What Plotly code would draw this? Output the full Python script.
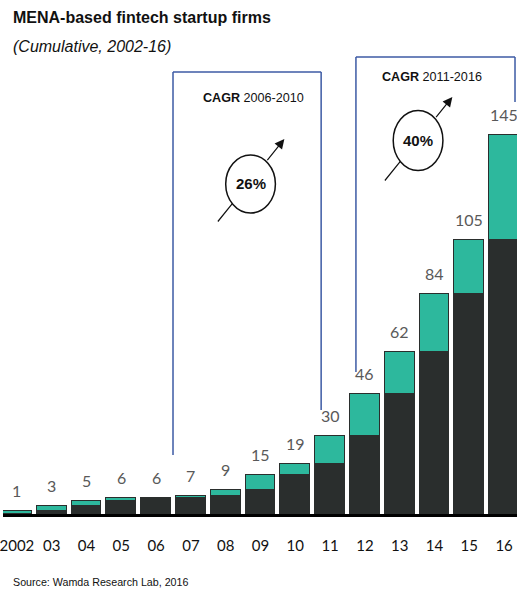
import math
import plotly.graph_objects as go

years = ["2002", "03", "04", "05", "06", "07", "08", "09", "10", "11", "12", "13", "14", "15", "16"]
totals = [1, 3, 5, 6, 6, 7, 9, 15, 19, 30, 46, 62, 84, 105, 145]
prev_totals = [0] + totals[:-1]
new_firms = [t - p for t, p in zip(totals, prev_totals)]

W, H = 517, 593
BASE = 514  # pixel row of the baseline
DARK = "#2a2e2d"
TEAL = "#2db89d"
BLUE = "#3c5aa4"
NARROW = "Liberation Sans, Arial, sans-serif"
LABEL_FONT = "Lato, Carlito, Calibri, sans-serif"

def px(x):
    return x / W

def py(y):
    return (BASE - y) / BASE

x_idx = list(range(len(years)))

fig = go.Figure()
fig.add_trace(go.Bar(x=x_idx, y=prev_totals, marker=dict(color=DARK, line=dict(color=DARK, width=1.5)),
                     width=0.86, showlegend=False, hoverinfo="skip"))
fig.add_trace(go.Bar(x=x_idx, y=new_firms, marker=dict(color=TEAL, line=dict(color=DARK, width=1.5)),
                     width=0.86, showlegend=False, hoverinfo="skip"))

annotations = []
for i, t in zip(x_idx, totals):
    annotations.append(dict(x=i, y=t, xref="x", yref="y", text=str(t), showarrow=False,
                            xanchor="center", yanchor="bottom", yshift=9,
                            font=dict(family=LABEL_FONT, size=16, color="#595959")))

annotations += [
    dict(x=px(8), y=py(18), xref="paper", yref="paper", xanchor="left", yanchor="middle", showarrow=False,
         text="<b>MENA-based fintech startup firms</b>", font=dict(family=NARROW, size=16, color="#111")),
    dict(x=px(8), y=py(46), xref="paper", yref="paper", xanchor="left", yanchor="middle", showarrow=False,
         text="<i>(Cumulative, 2002-16)</i>", font=dict(family=NARROW, size=16, color="#111")),
    dict(x=px(8), y=py(582), xref="paper", yref="paper", xanchor="left", yanchor="middle", showarrow=False,
         text="Source: Wamda Research Lab, 2016", font=dict(family=NARROW, size=10.7, color="#111")),
    dict(x=px(252), y=py(98), xref="paper", yref="paper", xanchor="center", yanchor="middle", showarrow=False,
         text="<b>CAGR</b> 2006-2010", font=dict(family=NARROW, size=12.6, color="#111")),
    dict(x=px(432), y=py(77), xref="paper", yref="paper", xanchor="center", yanchor="middle", showarrow=False,
         text="<b>CAGR</b> 2011-2016", font=dict(family=NARROW, size=12.6, color="#111")),
]

shapes = []
def line(x0, y0, x1, y1):
    shapes.append(dict(type="line", xref="paper", yref="paper", x0=px(x0), y0=py(y0), x1=px(x1), y1=py(y1),
                       line=dict(color=BLUE, width=1.5)))

# bracket 1
line(171, 455, 171, 72)
line(171, 72, 320, 72)
line(320, 72, 320, 410)
# bracket 2
line(355, 372, 355, 57)
line(355, 57, 515, 57)
line(515, 57, 515, 102)

def cagr(cx, cy, rx, ry, tail, tip, label):
    shapes.append(dict(type="circle", xref="paper", yref="paper", x0=px(cx - rx), x1=px(cx + rx),
                       y0=py(cy + ry), y1=py(cy - ry), line=dict(color="#111", width=1.5), fillcolor="white"))
    annotations.append(dict(x=px(cx), y=py(cy), xref="paper", yref="paper", showarrow=False, text=f"<b>{label}</b>",
                            xanchor="center", yanchor="middle",
                            font=dict(family=NARROW, size=15, color="#111")))
    # intersect line tail->tip with the ellipse
    dx, dy = tip[0] - tail[0], tip[1] - tail[1]
    ox, oy = tail[0] - cx, tail[1] - cy
    a = (dx / rx) ** 2 + (dy / ry) ** 2
    b = 2 * (ox * dx / rx ** 2 + oy * dy / ry ** 2)
    c = (ox / rx) ** 2 + (oy / ry) ** 2 - 1
    disc = math.sqrt(max(b * b - 4 * a * c, 0))
    t1 = (-b - disc) / (2 * a)
    t2 = (-b + disc) / (2 * a)
    p1 = (tail[0] + t1 * dx, tail[1] + t1 * dy)
    p2 = (tail[0] + t2 * dx, tail[1] + t2 * dy)
    annotations.append(dict(x=px(p1[0]), y=py(p1[1]), xref="paper", yref="paper", text="", showarrow=True,
                            arrowhead=0, arrowwidth=1.2, arrowcolor="#111",
                            ax=tail[0] - p1[0], ay=tail[1] - p1[1]))
    annotations.append(dict(x=px(tip[0]), y=py(tip[1]), xref="paper", yref="paper", text="", showarrow=True,
                            arrowhead=2, arrowsize=1.6, arrowwidth=1.2, arrowcolor="#111",
                            ax=p2[0] - tip[0], ay=p2[1] - tip[1]))

cagr(249, 184, 25, 29, (215, 223), (283, 139), "26%")
cagr(417.5, 140.5, 25, 30, (383, 182), (452, 97), "40%")

ymax = BASE / ((BASE - 135) / 145)
fig.update_layout(
    width=W, height=H, margin=dict(l=0, r=0, t=0, b=H - BASE),
    paper_bgcolor="white", plot_bgcolor="white",
    barmode="stack", bargap=0,
    annotations=annotations, shapes=shapes,
    xaxis=dict(range=[-0.4, 14.37], tickmode="array", tickvals=x_idx, ticktext=years,
               showgrid=False, zeroline=False, showline=True, linecolor="black", linewidth=3,
               ticks="", ticklabelstandoff=16, ticklabeloverflow="allow",
               tickfont=dict(family=LABEL_FONT, size=15, color="#111"),
               fixedrange=True),
    yaxis=dict(range=[0, ymax], visible=False, fixedrange=True),
)
fig.write_html("out.html", config={"displayModeBar": False},
               post_script="document.body.style.margin='0';document.body.style.overflow='hidden';")
